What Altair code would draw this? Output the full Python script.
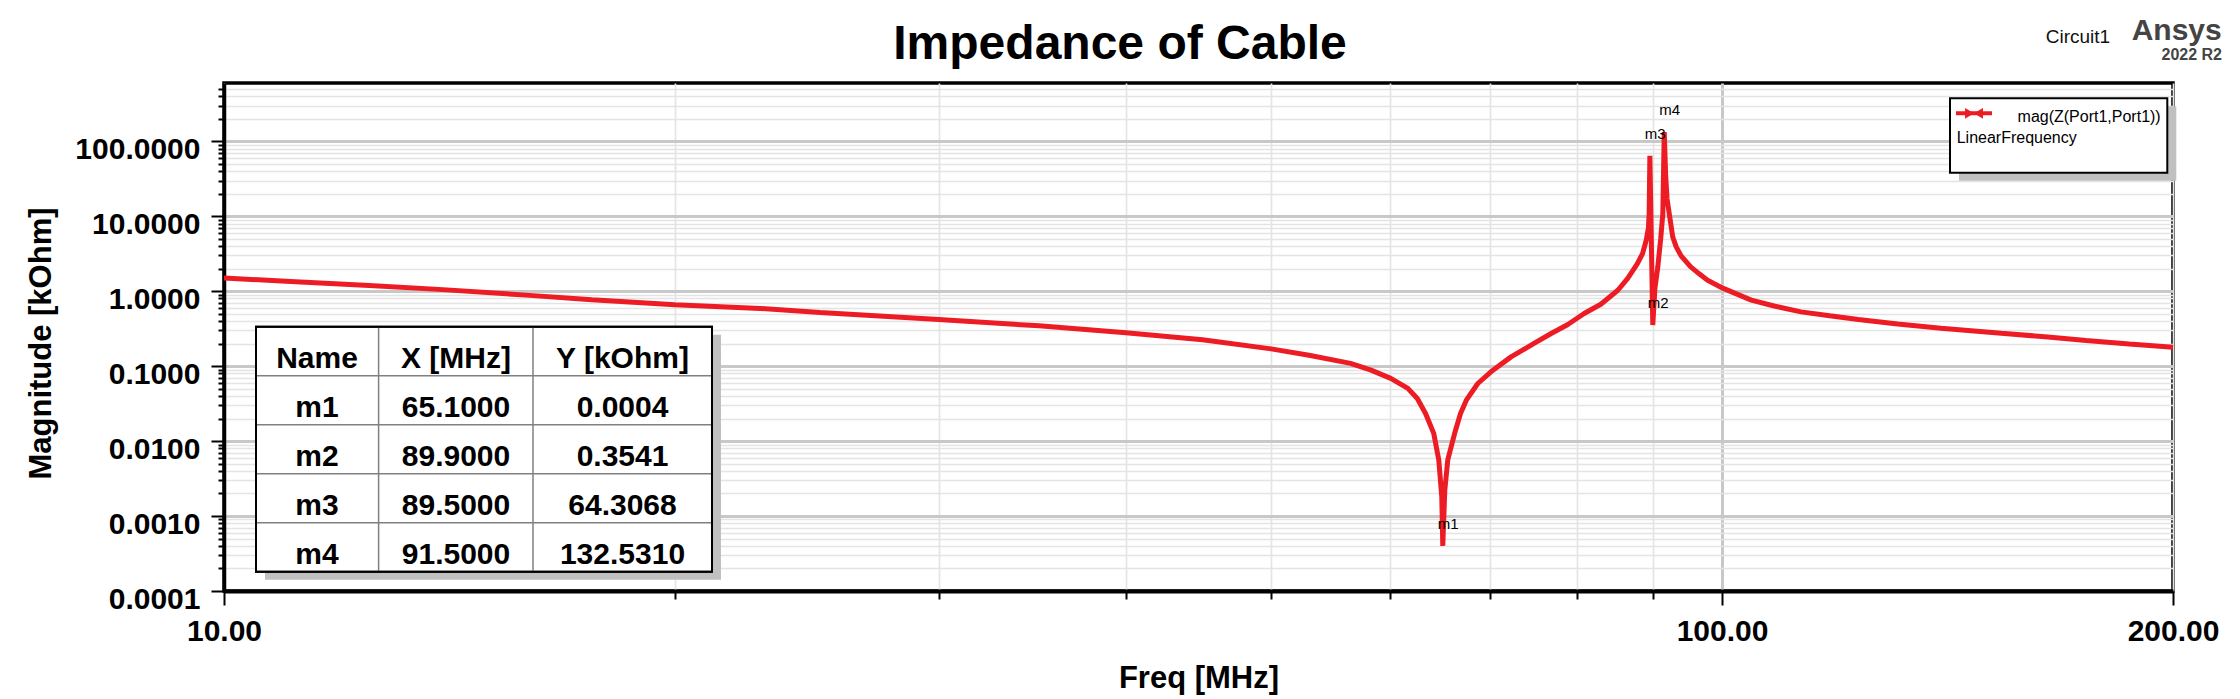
import altair as alt
import pandas as pd

# ---------------- data ----------------
freq_mhz = [10.0, 11.0, 12.5, 14.0, 16.0, 17.6, 20.0, 22.8, 25.0, 30.0, 35.0, 40.0,
            45.0, 50.0, 53.0, 56.5, 58.3, 60.1, 61.7, 62.6, 63.4, 64.2, 64.7, 65.0,
            65.1, 65.3, 65.6, 66.3, 66.9, 67.5, 68.7, 70.1, 72.3, 74.9, 76.9, 78.9,
            80.9, 83.0, 85.2, 86.5, 87.8, 88.5, 89.0, 89.3, 89.4, 89.5, 89.9, 90.2,
            90.6, 91.0, 91.3, 91.5, 91.7, 91.9, 92.2, 92.7, 93.2, 93.9, 95.3, 96.5,
            97.8, 100.2, 104.6, 108.5, 112.9, 118.0, 123.3, 131.0, 140.0, 153.6,
            165.0, 175.0, 187.0, 200.0]
mag_kohm = [1.50, 1.36, 1.19, 1.05, 0.88, 0.77, 0.66, 0.59, 0.52, 0.42, 0.345, 0.28,
            0.225, 0.17, 0.14, 0.109, 0.0885, 0.0686, 0.0505, 0.037, 0.0234, 0.0127, 0.0056, 0.0018,
            0.0004, 0.0022, 0.0056, 0.0127, 0.0234, 0.0352, 0.0587, 0.084, 0.133, 0.201, 0.273, 0.36,
            0.504, 0.67, 1.03, 1.48, 2.34, 3.18, 4.79, 7.0, 10.9, 64.3068, 0.3541, 1.1,
            2.11, 5.0, 10.9, 132.531, 35.0, 17.0, 10.9, 5.3, 3.9, 2.96, 2.11, 1.72,
            1.40, 1.09, 0.76, 0.63, 0.53, 0.47, 0.42, 0.365, 0.32, 0.275,
            0.245, 0.22, 0.198, 0.179]

marker_names = ["m1", "m2", "m3", "m4"]
marker_x = [65.1, 89.9, 89.5, 91.5]
marker_y = [0.0004, 0.3541, 64.3068, 132.5310]

table_header = ["Name", "X [MHz]", "Y [kOhm]"]

y_decades = [0.0001, 0.001, 0.01, 0.1, 1.0, 10.0, 100.0]
y_minor_steps = [1, 2, 3, 4, 5, 6, 7, 8, 9]
x_tick_values = [10, 20, 30, 40, 50, 60, 70, 80, 90, 100, 200]
x_label_values = [10, 100, 200]

title_text = "Impedance of Cable"
x_title = "Freq [MHz]"
y_title = "Magnitude [kOhm]"
legend_trace = "mag(Z(Port1,Port1))"
legend_sweep = "LinearFrequency"

# ---------------- layout ----------------
W, H = 1949, 508
FONT = "Liberation Sans"
RED = "#ed1c24"

y_tick_values = [d * m for d in y_decades for m in y_minor_steps if d * m <= 590]

is_decade = "abs(log(datum.value)/LN10 - round(log(datum.value)/LN10)) < 0.001"
is_xlabel = " || ".join(f"datum.value == {v}" for v in x_label_values)

xscale = alt.Scale(type="log", domain=[10, 200], nice=False)
yscale = alt.Scale(type="log", domain=[0.0001, 600], nice=False)

xaxis = alt.Axis(
    values=x_tick_values, title=x_title,
    labelExpr=f"({is_xlabel}) ? format(datum.value, '.2f') : ''",
    labelFont=FONT, labelFontSize=30, labelFontWeight="bold", labelColor="black",
    labelPadding=11, labelFlush=False, labelOverlap=False,
    tickColor="black", tickWidth=2,
    tickSize={"condition": {"test": is_xlabel, "value": 14}, "value": 8},
    domainColor="black", domainWidth=4,
    grid=True,
    gridColor={"condition": {"test": "datum.value == 100", "value": "#c8c8c8"}, "value": "#e4e4e4"},
    gridWidth={"condition": {"test": "datum.value == 100", "value": 3}, "value": 1.7},
    titleFont=FONT, titleFontSize=31, titleFontWeight="bold", titleColor="black",
    titleX=974.5, titleY=96, titleAlign="center", titleBaseline="alphabetic",
)
yaxis = alt.Axis(
    values=y_tick_values, title=y_title,
    labelExpr=f"({is_decade}) ? format(datum.value, '.4f') : ''",
    labelFont=FONT, labelFontSize=30, labelFontWeight="bold", labelColor="black",
    labelPadding=11, labelOffset=8, labelOverlap=False, labelFlush=False,
    tickColor="black", tickWidth=2,
    tickSize={"condition": {"test": is_decade, "value": 13}, "value": 6},
    domainColor="black", domainWidth=3.5,
    grid=True,
    gridColor={"condition": {"test": is_decade, "value": "#c8c8c8"}, "value": "#e4e4e4"},
    gridWidth={"condition": {"test": is_decade, "value": 3}, "value": 1.7},
    titleFont=FONT, titleFontSize=31, titleFontWeight="bold", titleColor="black",
    titleAngle=-90, titleX=-174, titleY=260, titleAlign="center", titleBaseline="alphabetic",
)

curve_df = pd.DataFrame({"freq": freq_mhz, "mag": mag_kohm})
curve = alt.Chart(curve_df).mark_line(
    color=RED, strokeWidth=5, strokeJoin="bevel"
).encode(
    x=alt.X("freq:Q", scale=xscale, axis=xaxis),
    y=alt.Y("mag:Q", scale=yscale, axis=yaxis),
)

mk_df = pd.DataFrame({"name": marker_names, "mx": marker_x, "my": marker_y})
mk_text = alt.Chart(mk_df).mark_text(
    align="left", baseline="middle", dx=-5, dy=-22, font=FONT, fontSize=15, color="black"
).encode(x=alt.X("mx:Q", scale=xscale), y=alt.Y("my:Q", scale=yscale), text="name:N")

one = pd.DataFrame({"k": [0]})

# ---------------- marker table ----------------
TX0, TX1, TY0 = 32, 488, 243.7
ROW = 49
col_div = [154.6, 309]
col_ctr = [93, 232, 398.5]
nrows = len(marker_names) + 1
TY1 = TY0 + ROW * nrows

table_shadow = alt.Chart(one).mark_rect(fill="#c0c0c0").encode(
    x=alt.value(TX0 + 9), x2=alt.value(TX1 + 9), y=alt.value(TY0 + 8), y2=alt.value(TY1 + 8))
table_box = alt.Chart(one).mark_rect(fill="white", stroke="black", strokeWidth=2).encode(
    x=alt.value(TX0), x2=alt.value(TX1), y=alt.value(TY0), y2=alt.value(TY1))

rows = []
cells = [table_header] + [[n, f"{x:.4f}", f"{y:.4f}"] for n, x, y in zip(marker_names, marker_x, marker_y)]
for r, row in enumerate(cells):
    for c, txt in enumerate(row):
        rows.append({"t": txt, "px": col_ctr[c], "py": TY0 + ROW * r + 41})
cell_df = pd.DataFrame(rows)
table_text = alt.Chart(cell_df).mark_text(
    align="center", baseline="alphabetic", font=FONT, fontSize=30, fontWeight="bold", color="black"
).encode(x=alt.X("px:Q", scale=None), y=alt.Y("py:Q", scale=None), text="t:N")

hl_df = pd.DataFrame({"py": [TY0 + ROW * r for r in range(1, nrows)]})
hlines = alt.Chart(hl_df).mark_rule(color="#808080", strokeWidth=1.5).encode(
    y=alt.Y("py:Q", scale=None), x=alt.value(TX0), x2=alt.value(TX1))
vl_df = pd.DataFrame({"px": col_div})
vlines = alt.Chart(vl_df).mark_rule(color="#808080", strokeWidth=1.5).encode(
    x=alt.X("px:Q", scale=None), y=alt.value(TY0), y2=alt.value(TY1))
table_frame = alt.Chart(one).mark_rect(fill=None, stroke="black", strokeWidth=2).encode(
    x=alt.value(TX0), x2=alt.value(TX1), y=alt.value(TY0), y2=alt.value(TY1))

# ---------------- legend box ----------------
LX0, LX1, LY0, LY1 = 1726, 1943.3, 15.3, 89.7
leg_shadow = alt.Chart(one).mark_rect(fill="#c0c0c0").encode(
    x=alt.value(LX0 + 9), x2=alt.value(LX1 + 9), y=alt.value(LY0 + 8), y2=alt.value(LY1 + 8))
leg_box = alt.Chart(one).mark_rect(fill="white", stroke="black", strokeWidth=2).encode(
    x=alt.value(LX0), x2=alt.value(LX1), y=alt.value(LY0), y2=alt.value(LY1))
leg_line = alt.Chart(one).mark_rule(color=RED, strokeWidth=4).encode(
    x=alt.value(1732), x2=alt.value(1768), y=alt.value(30.3))
leg_pt = alt.Chart(one).mark_point(
    shape="M-1,-0.6L0,0L-1,0.6Z M1,-0.6L0,0L1,0.6Z", filled=True, color=RED, size=320, opacity=1
).encode(x=alt.value(1750), y=alt.value(30.3))
leg_t1 = alt.Chart(one).mark_text(
    text=legend_trace, align="right", baseline="alphabetic", font=FONT, fontSize=16, color="black"
).encode(x=alt.value(1936.7), y=alt.value(38.7))
leg_t2 = alt.Chart(one).mark_text(
    text=legend_sweep, align="left", baseline="alphabetic", font=FONT, fontSize=16, color="black"
).encode(x=alt.value(1732.7), y=alt.value(60.3))

# ---------------- titles ----------------
title_mark = alt.Chart(one).mark_text(
    text=title_text, align="center", baseline="alphabetic", font=FONT, fontSize=48,
    fontWeight="bold", color="black"
).encode(x=alt.value(896), y=alt.value(-24))
circ = alt.Chart(one).mark_text(
    text="Circuit1", align="left", baseline="alphabetic", font=FONT, fontSize=19, color="#111111"
).encode(x=alt.value(1821.7), y=alt.value(-39.7))
ansys = alt.Chart(one).mark_text(
    text="Ansys", align="right", baseline="alphabetic", font=FONT, fontSize=30,
    fontWeight="bold", color="#444444"
).encode(x=alt.value(1997.7), y=alt.value(-43))
ver = alt.Chart(one).mark_text(
    text="2022 R2", align="right", baseline="alphabetic", font=FONT, fontSize=16,
    fontWeight="bold", color="#444444"
).encode(x=alt.value(1998), y=alt.value(-23))

chart = alt.layer(
    curve, mk_text,
    table_shadow, table_box, hlines, vlines, table_frame, table_text,
    leg_shadow, leg_box, leg_line, leg_pt, leg_t1, leg_t2,
    title_mark, circ, ansys, ver,
).properties(
    width=W, height=H,
    autosize=alt.AutoSizeParams(type="none"),
    padding={"left": 216, "top": 75, "right": 50, "bottom": 104},
    background="white",
).configure_view(
    stroke="black", strokeWidth=3.5
)

chart.save("out.html", embed_options={"renderer": "svg", "actions": False})
